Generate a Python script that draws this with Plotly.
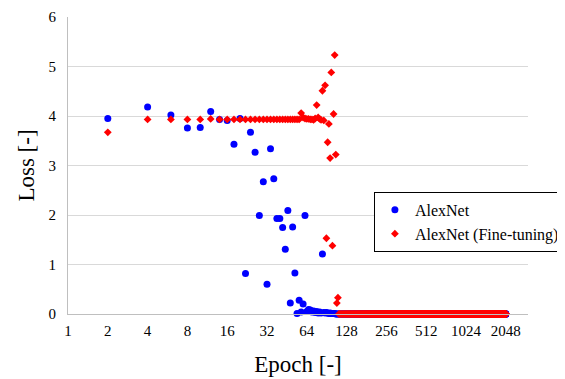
import plotly.graph_objects as go

# Epochs sampled every 2 epochs up to 2048
epochs = list(range(2, 2050, 2))

# AlexNet loss, epochs 2..112
alexnet_head = [
    3.95, 4.18, 4.02, 3.76, 3.77, 4.09, 3.93, 3.91, 3.43, 3.95,
    0.82, 3.67, 3.27, 1.99, 2.67, 0.60, 3.34, 2.73, 1.93, 1.93,
    1.75, 1.31, 2.09, 0.22, 1.76, 0.83, 0.01, 0.28, 0.04, 0.20,
    1.99,
    0.05, 0.09, 0.08, 0.04, 0.06, 0.03, 0.05, 0.02, 0.04, 0.02,
    1.21, 0.03, 0.02, 0.03, 0.02, 0.01, 0.02, 0.01, 0.01, 0.01,
    0.01, 0.00, 0.00, 0.00, 0.00,
]
# AlexNet (Fine-tuning) loss, epochs 2..112
finetune_head = [
    3.67, 3.93, 3.93, 3.93, 3.93, 3.94, 3.93, 3.93, 3.93, 3.93,
    3.93, 3.93, 3.93, 3.93, 3.93, 3.93, 3.93, 3.93, 3.93, 3.93,
    3.93, 3.93, 3.93, 3.93, 3.93, 3.93, 3.93, 3.93, 4.06, 3.97,
    3.95,
    3.94, 3.94, 3.93, 3.93, 3.92, 3.95, 4.22, 3.97, 3.94, 3.92,
    4.51, 3.91, 4.62, 1.53, 3.47, 3.84, 3.15, 4.88, 1.38, 4.04,
    5.23, 3.22, 0.22, 0.33, 0.00,
]
# After epoch 112 both losses sit flat at zero
alexnet_tail = [0.0] * (len(epochs) - len(alexnet_head))
finetune_tail = [0.0] * (len(epochs) - len(finetune_head))

alexnet = alexnet_head + alexnet_tail
finetune = finetune_head + finetune_tail

xtick_vals = [1, 2, 4, 8, 16, 32, 64, 128, 256, 512, 1024, 2048]
xtick_text = [str(v) for v in xtick_vals]
ytick_vals = [0, 1, 2, 3, 4, 5, 6]

FONT = "Liberation Serif"

fig = go.Figure()
fig.add_trace(go.Scatter(
    x=epochs, y=alexnet, mode="markers", name="AlexNet",
    marker=dict(symbol="circle", size=7, color="#0000FF"),
    cliponaxis=False,
))
fig.add_trace(go.Scatter(
    x=epochs, y=finetune, mode="markers", name="AlexNet (Fine-tuning)",
    marker=dict(symbol="diamond", size=6, color="#FF0000"),
    cliponaxis=False,
))

# page body adds an 8px offset; compensate in size/margins
fig.update_layout(
    width=557, height=371,
    margin=dict(l=60, r=37, t=9, b=65, autoexpand=False),
    paper_bgcolor="white", plot_bgcolor="white",
    font=dict(family=FONT, color="#000000", size=15),
    showlegend=True,
    legend=dict(
        x=0.665, y=0.411, xanchor="left", yanchor="top",
        bgcolor="white", bordercolor="#000000", borderwidth=1,
        font=dict(family=FONT, size=16, color="#000000"),
        tracegroupgap=0,
    ),
)
fig.update_xaxes(
    type="log", range=[0, 3.479],
    tickmode="array", tickvals=xtick_vals, ticktext=xtick_text,
    tickfont=dict(family=FONT, size=15, color="#000000"),
    showgrid=False, zeroline=False,
    showline=True, linecolor="#bfbfbf", linewidth=1,
    ticks="", ticklabelstandoff=3,
    title=dict(text="Epoch [-]", font=dict(family=FONT, size=23, color="#000000"), standoff=17),
    automargin=False,
)
fig.update_yaxes(
    range=[0, 6],
    tickmode="array", tickvals=ytick_vals,
    tickfont=dict(family=FONT, size=15, color="#000000"),
    showgrid=True, gridcolor="#d9d9d9", gridwidth=1,
    zeroline=False,
    showline=True, linecolor="#bfbfbf", linewidth=1,
    ticks="", ticklabelstandoff=8,
    title=dict(text="Loss [-]", font=dict(family=FONT, size=23, color="#000000"), standoff=7),
    automargin=False,
)

fig.write_html("out.html")
